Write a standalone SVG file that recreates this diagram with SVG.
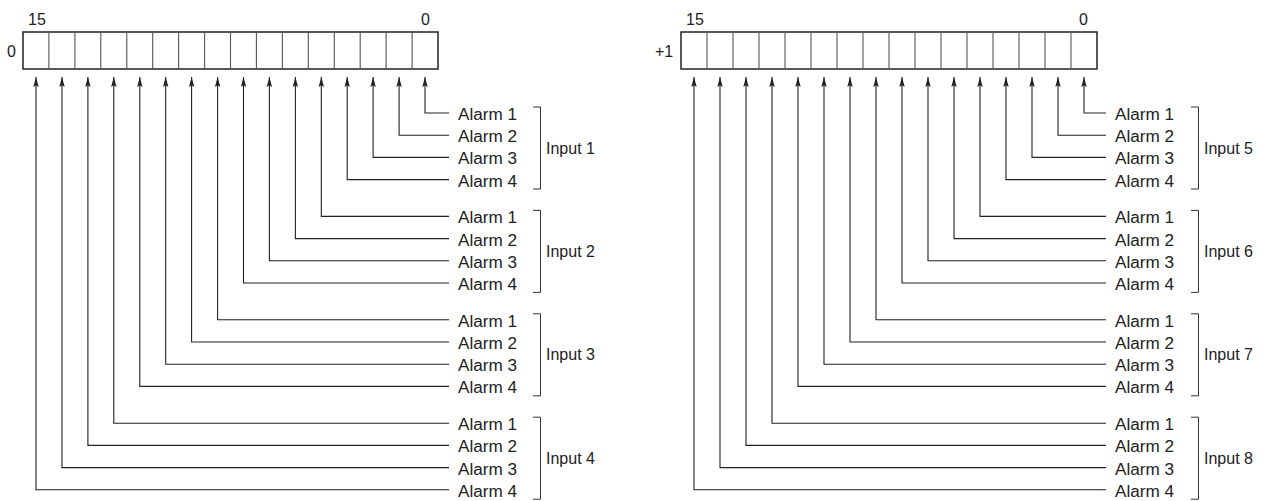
<svg xmlns="http://www.w3.org/2000/svg" width="1268" height="501" viewBox="0 0 1268 501">
<defs>
<marker id="ah" viewBox="0 0 10 6" refX="10" refY="3" markerWidth="10" markerHeight="6" markerUnits="userSpaceOnUse" orient="auto">
<path d="M10,3 L0,0.3 L1.8,3 L0,5.7 Z" fill="#222"/>
</marker>
<style>
.reg{fill:#fff;stroke:#222;stroke-width:1.5}
.div{stroke:#555;stroke-width:1.1}
.t{font-family:"Liberation Sans",Arial,sans-serif;font-size:16px;fill:#222}
.a{font-family:"Liberation Sans",Arial,sans-serif;font-size:16px;fill:#222}
.w{fill:none;stroke:#222;stroke-width:1.1}
.br{fill:none;stroke:#333;stroke-width:1}
</style>
</defs>
<rect width="1268" height="501" fill="#fff"/>

<g id="register-0">
<rect class="reg" x="23" y="32" width="415" height="37"/>
<path class="div" d="M48.9,32V69M74.9,32V69M100.8,32V69M126.8,32V69M152.7,32V69M178.6,32V69M204.6,32V69M230.5,32V69M256.4,32V69M282.4,32V69M308.3,32V69M334.3,32V69M360.2,32V69M386.1,32V69M412.1,32V69"/>
<text class="t" x="28" y="25">15</text>
<text class="t" x="421" y="25">0</text>
<text class="t" x="7" y="57">0</text>
</g>

<g id="register-1">
<rect class="reg" x="681" y="32" width="416" height="37"/>
<path class="div" d="M707,32V69M733,32V69M759,32V69M785,32V69M811,32V69M837,32V69M863,32V69M889,32V69M915,32V69M941,32V69M967,32V69M993,32V69M1019,32V69M1045,32V69M1071,32V69"/>
<text class="t" x="686" y="25">15</text>
<text class="t" x="1079" y="25">0</text>
<text class="t" x="655" y="57">+1</text>
</g>

<g id="connectors">
<path class="w" marker-end="url(#ah)" d="M449,113H425V77"/>
<path class="w" marker-end="url(#ah)" d="M449,135.2H399.1V77"/>
<path class="w" marker-end="url(#ah)" d="M449,157.4H373.1V77"/>
<path class="w" marker-end="url(#ah)" d="M449,179.6H347.2V77"/>
<path class="w" marker-end="url(#ah)" d="M449,216.4H321.3V77"/>
<path class="w" marker-end="url(#ah)" d="M449,238.6H295.4V77"/>
<path class="w" marker-end="url(#ah)" d="M449,260.8H269.4V77"/>
<path class="w" marker-end="url(#ah)" d="M449,283H243.5V77"/>
<path class="w" marker-end="url(#ah)" d="M449,319.8H217.6V77"/>
<path class="w" marker-end="url(#ah)" d="M449,342H191.6V77"/>
<path class="w" marker-end="url(#ah)" d="M449,364.2H165.7V77"/>
<path class="w" marker-end="url(#ah)" d="M449,386.4H139.8V77"/>
<path class="w" marker-end="url(#ah)" d="M449,423.2H113.8V77"/>
<path class="w" marker-end="url(#ah)" d="M449,445.4H87.9V77"/>
<path class="w" marker-end="url(#ah)" d="M449,467.6H62V77"/>
<path class="w" marker-end="url(#ah)" d="M449,489.8H36V77"/>
<path class="w" marker-end="url(#ah)" d="M1106,113H1084V77"/>
<path class="w" marker-end="url(#ah)" d="M1106,135.2H1058V77"/>
<path class="w" marker-end="url(#ah)" d="M1106,157.4H1032V77"/>
<path class="w" marker-end="url(#ah)" d="M1106,179.6H1006V77"/>
<path class="w" marker-end="url(#ah)" d="M1106,216.4H980V77"/>
<path class="w" marker-end="url(#ah)" d="M1106,238.6H954V77"/>
<path class="w" marker-end="url(#ah)" d="M1106,260.8H928V77"/>
<path class="w" marker-end="url(#ah)" d="M1106,283H902V77"/>
<path class="w" marker-end="url(#ah)" d="M1106,319.8H876V77"/>
<path class="w" marker-end="url(#ah)" d="M1106,342H850V77"/>
<path class="w" marker-end="url(#ah)" d="M1106,364.2H824V77"/>
<path class="w" marker-end="url(#ah)" d="M1106,386.4H798V77"/>
<path class="w" marker-end="url(#ah)" d="M1106,423.2H772V77"/>
<path class="w" marker-end="url(#ah)" d="M1106,445.4H746V77"/>
<path class="w" marker-end="url(#ah)" d="M1106,467.6H720V77"/>
<path class="w" marker-end="url(#ah)" d="M1106,489.8H694V77"/>
</g>

<g id="input-1">
<text class="a" x="458" y="120" textLength="59" lengthAdjust="spacingAndGlyphs">Alarm 1</text>
<text class="a" x="458" y="142.2" textLength="59" lengthAdjust="spacingAndGlyphs">Alarm 2</text>
<text class="a" x="458" y="164.4" textLength="59" lengthAdjust="spacingAndGlyphs">Alarm 3</text>
<text class="a" x="458" y="186.6" textLength="59" lengthAdjust="spacingAndGlyphs">Alarm 4</text>
<path class="br" d="M533,107H540.5V189H533"/>
<text class="a" x="546" y="153.5">Input 1</text>
</g>
<g id="input-2">
<text class="a" x="458" y="223.4" textLength="59" lengthAdjust="spacingAndGlyphs">Alarm 1</text>
<text class="a" x="458" y="245.6" textLength="59" lengthAdjust="spacingAndGlyphs">Alarm 2</text>
<text class="a" x="458" y="267.8" textLength="59" lengthAdjust="spacingAndGlyphs">Alarm 3</text>
<text class="a" x="458" y="290" textLength="59" lengthAdjust="spacingAndGlyphs">Alarm 4</text>
<path class="br" d="M533,210.4H540.5V292.4H533"/>
<text class="a" x="546" y="256.9">Input 2</text>
</g>
<g id="input-3">
<text class="a" x="458" y="326.8" textLength="59" lengthAdjust="spacingAndGlyphs">Alarm 1</text>
<text class="a" x="458" y="349" textLength="59" lengthAdjust="spacingAndGlyphs">Alarm 2</text>
<text class="a" x="458" y="371.2" textLength="59" lengthAdjust="spacingAndGlyphs">Alarm 3</text>
<text class="a" x="458" y="393.4" textLength="59" lengthAdjust="spacingAndGlyphs">Alarm 4</text>
<path class="br" d="M533,313.8H540.5V395.8H533"/>
<text class="a" x="546" y="360.3">Input 3</text>
</g>
<g id="input-4">
<text class="a" x="458" y="430.2" textLength="59" lengthAdjust="spacingAndGlyphs">Alarm 1</text>
<text class="a" x="458" y="452.4" textLength="59" lengthAdjust="spacingAndGlyphs">Alarm 2</text>
<text class="a" x="458" y="474.6" textLength="59" lengthAdjust="spacingAndGlyphs">Alarm 3</text>
<text class="a" x="458" y="496.8" textLength="59" lengthAdjust="spacingAndGlyphs">Alarm 4</text>
<path class="br" d="M533,417.2H540.5V499.2H533"/>
<text class="a" x="546" y="463.7">Input 4</text>
</g>

<g id="input-5">
<text class="a" x="1115" y="120" textLength="59" lengthAdjust="spacingAndGlyphs">Alarm 1</text>
<text class="a" x="1115" y="142.2" textLength="59" lengthAdjust="spacingAndGlyphs">Alarm 2</text>
<text class="a" x="1115" y="164.4" textLength="59" lengthAdjust="spacingAndGlyphs">Alarm 3</text>
<text class="a" x="1115" y="186.6" textLength="59" lengthAdjust="spacingAndGlyphs">Alarm 4</text>
<path class="br" d="M1191,107H1198.5V189H1191"/>
<text class="a" x="1204" y="153.5">Input 5</text>
</g>
<g id="input-6">
<text class="a" x="1115" y="223.4" textLength="59" lengthAdjust="spacingAndGlyphs">Alarm 1</text>
<text class="a" x="1115" y="245.6" textLength="59" lengthAdjust="spacingAndGlyphs">Alarm 2</text>
<text class="a" x="1115" y="267.8" textLength="59" lengthAdjust="spacingAndGlyphs">Alarm 3</text>
<text class="a" x="1115" y="290" textLength="59" lengthAdjust="spacingAndGlyphs">Alarm 4</text>
<path class="br" d="M1191,210.4H1198.5V292.4H1191"/>
<text class="a" x="1204" y="256.9">Input 6</text>
</g>
<g id="input-7">
<text class="a" x="1115" y="326.8" textLength="59" lengthAdjust="spacingAndGlyphs">Alarm 1</text>
<text class="a" x="1115" y="349" textLength="59" lengthAdjust="spacingAndGlyphs">Alarm 2</text>
<text class="a" x="1115" y="371.2" textLength="59" lengthAdjust="spacingAndGlyphs">Alarm 3</text>
<text class="a" x="1115" y="393.4" textLength="59" lengthAdjust="spacingAndGlyphs">Alarm 4</text>
<path class="br" d="M1191,313.8H1198.5V395.8H1191"/>
<text class="a" x="1204" y="360.3">Input 7</text>
</g>
<g id="input-8">
<text class="a" x="1115" y="430.2" textLength="59" lengthAdjust="spacingAndGlyphs">Alarm 1</text>
<text class="a" x="1115" y="452.4" textLength="59" lengthAdjust="spacingAndGlyphs">Alarm 2</text>
<text class="a" x="1115" y="474.6" textLength="59" lengthAdjust="spacingAndGlyphs">Alarm 3</text>
<text class="a" x="1115" y="496.8" textLength="59" lengthAdjust="spacingAndGlyphs">Alarm 4</text>
<path class="br" d="M1191,417.2H1198.5V499.2H1191"/>
<text class="a" x="1204" y="463.7">Input 8</text>
</g>
</svg>
